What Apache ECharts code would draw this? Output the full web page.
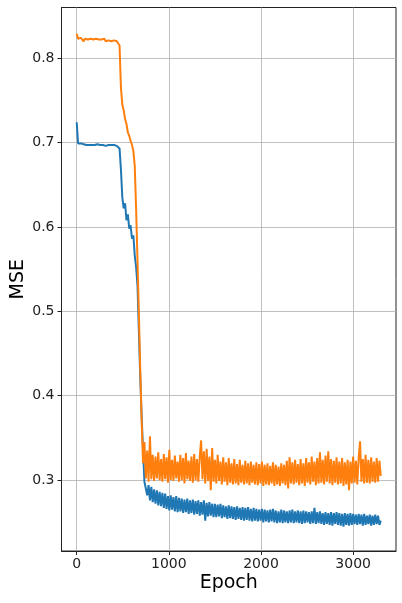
<!DOCTYPE html>
<html>
<head>
<meta charset="utf-8">
<script src="https://cdn.jsdelivr.net/npm/echarts@6/dist/echarts.min.js"></script>
<style>
html,body{margin:0;padding:0;background:#fff;}
#chart{width:402px;height:603px;}
</style>
</head>
<body>
<div id="chart"></div>
<script>
// Sampling grid: one reading every 15 epochs, 0..3300
const epochStep = 15;
const xTicks = [0, 1000, 2000, 3000];
const yTicks = [0.3, 0.4, 0.5, 0.6, 0.7, 0.8];

// Orange series
const orangeMSE = [
0.829,0.823,0.821,0.824,0.822,0.820,0.823,0.821,0.822,0.820,
0.823,0.821,0.822,0.820,0.823,0.821,0.822,0.820,0.822,0.821,
0.823,0.820,0.822,0.821,0.822,0.820,0.822,0.821,0.822,0.820,
0.821,0.815,0.765,0.745,0.738,0.728,0.722,0.712,0.708,0.702,
0.697,0.690,0.672,0.620,0.560,0.495,0.430,0.370,0.320,0.345,
0.302,0.335,0.298,0.352,0.301,0.330,0.299,0.328,0.302,0.333,
0.300,0.325,0.298,0.331,0.301,0.327,0.297,0.336,0.300,0.324,
0.299,0.329,0.302,0.322,0.298,0.330,0.300,0.326,0.296,0.332,
0.301,0.323,0.299,0.328,0.297,0.331,0.300,0.325,0.298,0.327,
0.347,0.301,0.334,0.296,0.337,0.299,0.328,0.288,0.338,0.298,
0.324,0.296,0.330,0.299,0.322,0.295,0.327,0.298,0.321,0.294,
0.326,0.297,0.320,0.295,0.325,0.296,0.319,0.294,0.324,0.297,
0.318,0.295,0.323,0.296,0.320,0.294,0.322,0.297,0.318,0.295,
0.321,0.294,0.319,0.296,0.322,0.293,0.318,0.295,0.320,0.294,
0.317,0.296,0.321,0.293,0.318,0.295,0.316,0.293,0.320,0.296,
0.318,0.294,0.323,0.290,0.327,0.296,0.321,0.295,0.324,0.297,
0.319,0.294,0.325,0.296,0.320,0.293,0.326,0.297,0.321,0.295,
0.328,0.298,0.322,0.294,0.326,0.296,0.333,0.297,0.324,0.295,
0.329,0.298,0.334,0.296,0.325,0.294,0.323,0.297,0.327,0.295,
0.322,0.296,0.326,0.293,0.321,0.295,0.324,0.288,0.322,0.296,
0.328,0.297,0.323,0.295,0.326,0.346,0.298,0.325,0.296,0.330,
0.297,0.324,0.296,0.327,0.298,0.322,0.297,0.326,0.298,0.323,
0.305
];

// Blue series
const blueMSE = [
0.724,0.699,0.698,0.699,0.697,0.698,0.698,0.697,0.698,0.697,
0.698,0.697,0.698,0.697,0.697,0.698,0.697,0.697,0.698,0.697,
0.697,0.696,0.697,0.697,0.696,0.697,0.696,0.697,0.696,0.696,
0.696,0.693,0.668,0.635,0.622,0.628,0.608,0.615,0.598,0.602,
0.586,0.590,0.566,0.552,0.530,0.475,0.420,0.375,0.335,0.298,
0.298,0.282,0.294,0.276,0.292,0.274,0.289,0.272,0.288,0.270,
0.286,0.269,0.285,0.267,0.284,0.266,0.281,0.264,0.282,0.265,
0.280,0.263,0.281,0.262,0.279,0.263,0.278,0.261,0.277,0.262,
0.278,0.260,0.276,0.261,0.277,0.259,0.275,0.260,0.276,0.258,
0.274,0.259,0.276,0.252,0.273,0.257,0.274,0.258,0.272,0.256,
0.272,0.256,0.271,0.257,0.272,0.255,0.270,0.256,0.269,0.254,
0.270,0.255,0.269,0.254,0.268,0.253,0.269,0.254,0.267,0.253,
0.268,0.252,0.267,0.253,0.268,0.252,0.266,0.251,0.267,0.252,
0.266,0.251,0.265,0.252,0.266,0.250,0.265,0.251,0.264,0.250,
0.265,0.251,0.266,0.250,0.264,0.249,0.263,0.250,0.265,0.249,
0.264,0.250,0.263,0.249,0.264,0.250,0.265,0.249,0.263,0.250,
0.264,0.249,0.263,0.248,0.264,0.249,0.263,0.250,0.262,0.248,
0.263,0.249,0.267,0.248,0.262,0.249,0.263,0.248,0.261,0.247,
0.262,0.248,0.261,0.247,0.262,0.246,0.261,0.248,0.262,0.247,
0.261,0.246,0.260,0.245,0.261,0.247,0.260,0.246,0.261,0.247,
0.260,0.248,0.259,0.247,0.260,0.248,0.259,0.246,0.260,0.247,
0.258,0.248,0.259,0.246,0.258,0.247,0.259,0.248,0.258,0.247,
0.252
];

const toPairs = arr => arr.map((v, i) => [i * epochStep, v]);

const FONT = 'DejaVu Sans';
const chart = echarts.init(document.getElementById('chart'), null, {renderer: 'canvas'});
const tickStyle = {show: true, inside: false, length: 4, lineStyle: {color: '#222', width: 1}};
const labelStyle = {color: '#222', fontFamily: FONT, fontSize: 14};
const nameStyle = {color: '#000', fontFamily: FONT, fontSize: 19};
const gridLine = {show: true, lineStyle: {color: '#b0b0b0', width: 0.8}};
chart.setOption({
  animation: false,
  backgroundColor: '#fff',
  grid: {left: 61.5, right: 6, top: 7.5, bottom: 52, containLabel: false, outerBoundsMode: 'none',
         show: true, borderColor: '#222', borderWidth: 1, backgroundColor: 'transparent'},
  xAxis: {
    type: 'value', min: -165, max: 3465, interval: 1000,
    name: 'Epoch', nameLocation: 'middle', nameGap: 23, nameMoveOverlap: false,
    nameTextStyle: nameStyle,
    axisLine: {show: true, onZero: false, lineStyle: {color: '#222', width: 1}},
    axisTick: Object.assign({}, tickStyle, {customValues: xTicks}),
    axisLabel: Object.assign({}, labelStyle, {margin: 6, customValues: xTicks, formatter: v => String(v)}),
    splitLine: gridLine
  },
  yAxis: {
    type: 'value', min: 0.216, max: 0.860,
    name: 'MSE', nameLocation: 'middle', nameGap: 34, nameRotate: 90, nameMoveOverlap: false,
    nameTextStyle: nameStyle,
    axisLine: {show: true, onZero: false, lineStyle: {color: '#222', width: 1}},
    axisTick: Object.assign({}, tickStyle, {customValues: yTicks}),
    axisLabel: Object.assign({}, labelStyle, {margin: 7, customValues: yTicks, formatter: v => v.toFixed(1)}),
    splitLine: gridLine
  },
  series: [
    {type: 'line', data: toPairs(blueMSE), showSymbol: false, symbol: 'none', sampling: null,
     lineStyle: {color: '#1f77b4', width: 2, join: 'bevel'}, z: 3},
    {type: 'line', data: toPairs(orangeMSE), showSymbol: false, symbol: 'none', sampling: null,
     lineStyle: {color: '#ff7f0e', width: 2, join: 'bevel'}, z: 4}
  ]
});
</script>
</body>
</html>
